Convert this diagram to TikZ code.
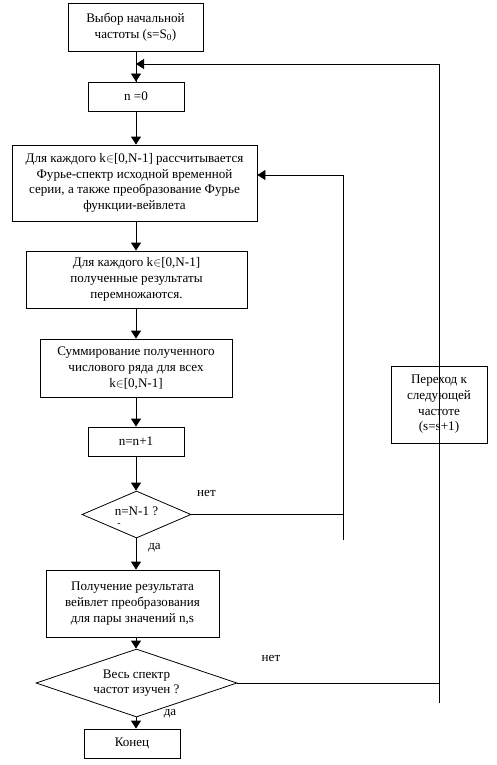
\documentclass[tikz,border=0pt]{standalone}
\usepackage{fontspec}
\setmainfont{Liberation Serif}
\usetikzlibrary{arrows.meta,shapes.geometric}
\begin{document}
\begin{tikzpicture}[x=1pt,y=-1pt,
  box/.style={draw,line width=0.8pt,align=center,inner sep=0pt,font=\fontsize{13.1}{15.7}\selectfont},
  dia/.style={draw,line width=0.8pt,diamond,inner sep=0pt},
  txt/.style={align=center,inner sep=0pt,font=\fontsize{13.1}{15.7}\selectfont},
  con/.style={line width=0.8pt},
  arr/.style={line width=0.8pt,-{Triangle[width=10pt,length=8pt]}}]
\useasboundingbox (0,0) rectangle (497,765);
\node[box,minimum width=135,minimum height=48] (b1) at (135.5,27) {Выбор начальной\\частоты (s=S\textsubscript{0})};
\node[box,minimum width=96,minimum height=29] (b2) at (136,96.5) {n =0};
\node[box,minimum width=245,minimum height=76] (b3) at (134.5,183) {Для каждого k$\in$[0,N-1] рассчитывается\\Фурье-спектр исходной временной\\серии, а также преобразование Фурье\\функции-вейвлета};
\node[box,minimum width=221,minimum height=57] (b4) at (136.5,279.5) {Для каждого k$\in$[0,N-1]\\полученные результаты\\перемножаются.};
\node[box,minimum width=192,minimum height=58] (b5) at (136,368) {Суммирование полученного\\числового ряда для всех\\k$\in$[0,N-1]};
\node[box,minimum width=96,minimum height=29] (b6) at (136,441.5) {n=n+1};
\node[dia,minimum width=109,minimum height=47] (d1) at (136.5,514.5) {};
\node[txt] (d1t) at (136.5,511) {n=N-1 ?};
\node[txt,font=\fontsize{10}{10}\selectfont] (dash) at (119,525) {-};
\node[box,minimum width=173,minimum height=67] (b7) at (132.5,603.5) {Получение результата\\вейвлет преобразования\\для пары значений n,s};
\node[dia,minimum width=201,minimum height=68] (d2) at (136.5,683) {};
\node[txt] (d2t) at (136.5,683) {Весь спектр\\частот изучен ?};
\node[box,minimum width=96,minimum height=29] (b8) at (132,743.5) {Конец};
\node[box,minimum width=96,minimum height=77] (b9) at (439,404.5) {Переход к\\следующей\\частоте\\(s=s+1)};
\node[txt] (no1) at (206.5,493) {нет};
\node[txt] (yes1) at (154.5,548) {да};
\node[txt] (no2) at (271,658) {нет};
\node[txt] (yes2) at (170,714) {да};
% coordinates
\coordinate (m) at (136,0);
\coordinate (top) at (439,64);
\coordinate (topin) at (136,64);
\coordinate (bot2) at (439,703);
\coordinate (r1) at (343,514.5);
\coordinate (r1b) at (343,540);
\coordinate (r1t) at (343,175);
\coordinate (b3in) at (b3.east |- r1t);
\coordinate (r2) at (439,683);
% connectors
\draw[con] (b1.south -| m) -- (b2.north -| m);
\draw[arr] (top) -- (topin);
\draw[arr] (topin) -- (b2.north -| m);
\draw[arr] (b2.south -| m) -- (b3.north -| m);
\draw[arr] (b3.south -| m) -- (b4.north -| m);
\draw[arr] (b4.south -| m) -- (b5.north -| m);
\draw[arr] (b5.south -| m) -- (b6.north -| m);
\draw[arr] (b6.south -| m) -- (d1.north -| m);
\draw[arr] (d1.south -| m) -- (b7.north -| m);
\draw[arr] (b7.south -| m) -- (d2.north -| m);
\draw[arr] (d2.south -| m) -- (b8.north -| m);
\draw[con] (d1.east) -- (r1);
\draw[arr] (r1b) -- (r1t) -- (b3in);
\draw[con] (d2.east) -- (r2);
\draw[con] (bot2) -- (top);
\end{tikzpicture}
\end{document}
